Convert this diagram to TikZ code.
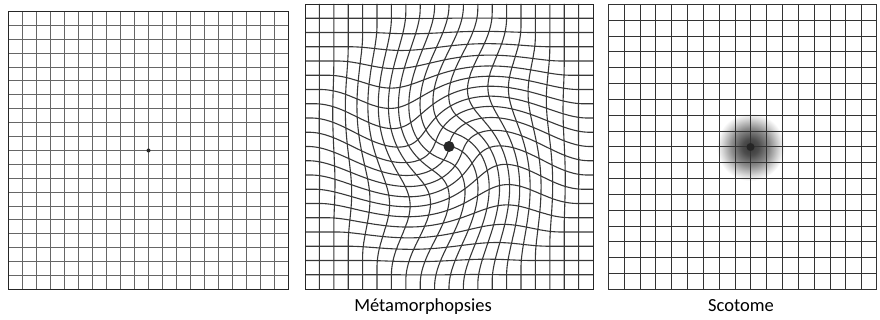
\documentclass[tikz,border=0pt]{standalone}
\usepackage{fontspec}
\setmainfont{Carlito}
\pgfdeclareradialshading{scotome}{\pgfpoint{0bp}{0bp}}{color(0bp)=(black!78); color(6bp)=(black!70); color(14bp)=(black!45); color(21bp)=(black!15); color(25bp)=(white); color(50bp)=(white)}
\begin{document}
\begin{tikzpicture}[x=1pt,y=1pt,
  lgrid/.style={black!60, line width=1pt},
  lborder/.style={black!85, line width=1.2pt},
  mgrid/.style={black!78, line width=1.1pt, line join=round},
  rgrid/.style={black!80, line width=1.7pt},
  dotc/.style={circle, fill=black!85, inner sep=0pt, minimum size=#1},
  lbl/.style={font=\fontsize{18.5}{20}\selectfont, anchor=base, text=black},
  declare function={
    tw(\a,\b)=85*max(0,1-veclen(\a,\b)/141)^2;
    wx(\a,\b)=\a*cos(tw(\a,\b))-\b*sin(tw(\a,\b));
    wy(\a,\b)=\a*sin(tw(\a,\b))+\b*cos(tw(\a,\b));
  }]
\useasboundingbox (0,0) rectangle (880,320);
\fill[white] (0,0) rectangle (880,320);

% ---------- left grid (normal) ----------
\foreach \i in {1,...,19} {
  \pgfmathsetmacro\cx{round(8+14*\i)+0.5}
  \pgfmathsetmacro\ry{319.5-round(11+13.9*\i)}
  \draw[lgrid] (\cx,30.5) -- (\cx,308.5);
  \draw[lgrid] (8.5,\ry) -- (288.5,\ry);
}
\draw[lborder] (8.5,30.5) rectangle (288.5,308.5);
\node[dotc=4pt] (d1) at (148.5,169.5) {};

% ---------- middle grid (metamorphopsia) ----------
\begin{scope}[shift={(449,173.5)}]
  \foreach \j in {1,...,19} {
    \pgfmathsetmacro\vv{-142.5+14.25*\j}
    \draw[mgrid] plot[domain=-144:144, samples=121, variable=\t] ({wx(\t,\vv)},{wy(\t,\vv)});
  }
  \foreach \i in {1,...,19} {
    \pgfmathsetmacro\uu{-144+14.4*\i}
    \draw[mgrid] plot[domain=-142.5:142.5, samples=121, variable=\t] ({wx(\uu,\t)},{wy(\uu,\t)});
  }
  \draw[black!85, line width=1.2pt] (-143.5,-143) rectangle (144.5,142);
  \node[dotc=11pt] (d2) at (0,0) {};
\end{scope}

% ---------- right grid (scotoma) ----------
\shade[shading=scotome] (750.5,173) circle (34);
\foreach \i in {1,...,16} {
  \pgfmathsetmacro\cx{round(608+15.83*\i)+0.5}
  \draw[rgrid] (\cx,30.5) -- (\cx,315.5);
}
\foreach \j in {1,...,17} {
  \pgfmathsetmacro\ry{319.5-round(4+15.83*\j)}
  \draw[rgrid] (608.5,\ry) -- (876.5,\ry);
}
\draw[rgrid] (608.5,30.5) rectangle (876.5,315.5);
\node[dotc=8pt] (d3) at (750.5,173) {};

% ---------- labels ----------
\node[lbl] (t1) at (423,8) {Métamorphopsies};
\node[lbl] (t2) at (741,8) {Scotome};
\end{tikzpicture}
\end{document}
